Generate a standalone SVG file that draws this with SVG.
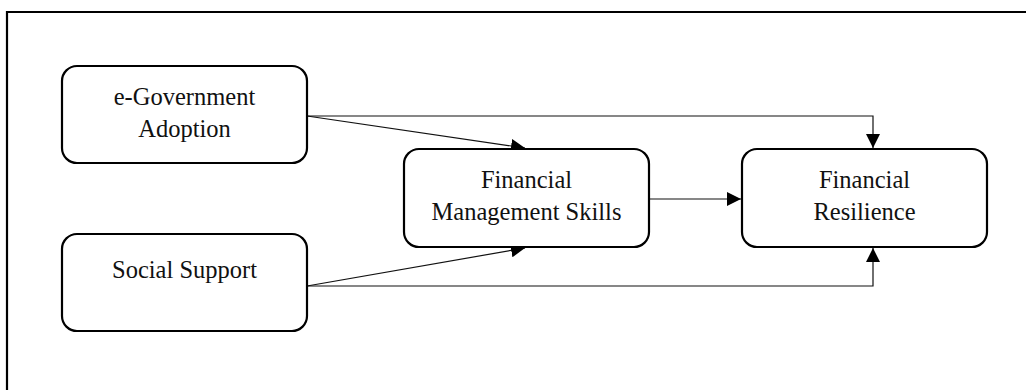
<svg xmlns="http://www.w3.org/2000/svg" width="1026" height="390" viewBox="0 0 1026 390">
<style>
.box{fill:#fff;stroke:#000;stroke-width:2.2}
.lbl{font-family:"Liberation Serif","Times New Roman",serif;font-size:24.5px;fill:#111;text-anchor:middle}
.con{fill:none;stroke:#111;stroke-width:1.2}
</style>
<defs>
<marker id="ah" markerUnits="userSpaceOnUse" markerWidth="15" markerHeight="14" refX="14" refY="7" orient="auto">
<path d="M0,0 L14,7 L0,14 z" fill="#000"/>
</marker>
</defs>
<rect width="1026" height="390" fill="#fff"/>
<path d="M7,392 V12 H1030" fill="none" stroke="#000" stroke-width="2.2"/>
<g id="connectors">
<path class="con" d="M307,116 H873 V148" marker-end="url(#ah)"/>
<path class="con" d="M307,116 L525,148" marker-end="url(#ah)"/>
<path class="con" d="M307,286 L525,248" marker-end="url(#ah)"/>
<path class="con" d="M307,286 H873 V248" marker-end="url(#ah)"/>
<path class="con" d="M649,199 H741" marker-end="url(#ah)"/>
</g>
<g id="egov">
<rect class="box" x="62" y="66" width="245" height="97" rx="15"/>
<text class="lbl" x="184.5" y="104.5">e-Government</text>
<text class="lbl" x="184.5" y="137">Adoption</text>
</g>
<g id="social">
<rect class="box" x="62" y="234" width="245" height="97" rx="15"/>
<text class="lbl" x="184.5" y="278">Social Support</text>
</g>
<g id="fms">
<rect class="box" x="404" y="149" width="245" height="98" rx="15"/>
<text class="lbl" x="526.5" y="188">Financial</text>
<text class="lbl" x="526.5" y="220">Management Skills</text>
</g>
<g id="fr">
<rect class="box" x="742" y="149" width="245" height="98" rx="15"/>
<text class="lbl" x="864.5" y="188">Financial</text>
<text class="lbl" x="864.5" y="220">Resilience</text>
</g>
</svg>
